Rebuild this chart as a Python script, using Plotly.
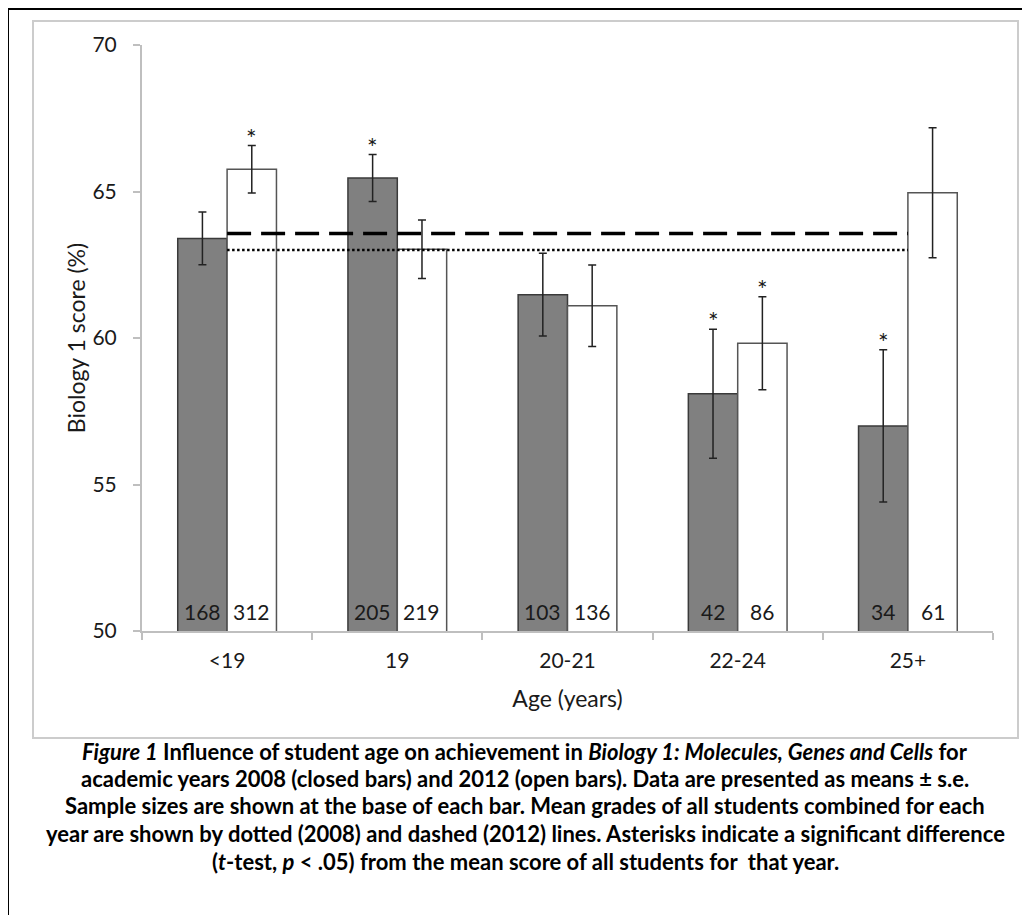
import plotly.graph_objects as go

# ---------------- data ----------------
categories = ["<19", "19", "20-21", "22-24", "25+"]
mean_2008 = [63.4, 65.46, 61.48, 58.1, 57.0]
se_2008 = [0.9, 0.8, 1.41, 2.2, 2.6]
mean_2012 = [65.76, 63.03, 61.1, 59.82, 64.96]
se_2012 = [0.81, 1.0, 1.39, 1.59, 2.22]
n_2008 = [168, 205, 103, 42, 34]
n_2012 = [312, 219, 136, 86, 61]
sig_2008 = [False, True, False, True, True]
sig_2012 = [True, False, False, True, False]
overall_2008 = 63.0
overall_2012 = 63.57

y_ticks = [50, 55, 60, 65, 70]
x_title = "Age (years)"
y_title = "Biology 1 score (%)"
caption_lines = [
    "<i>Figure 1</i> Influence of student age on achievement in <i>Biology 1: Molecules, Genes and Cells</i> for",
    "academic years 2008 (closed bars) and 2012 (open bars). Data are presented as means ± s.e.",
    "Sample sizes are shown at the base of each bar. Mean grades of all students combined for each",
    "year are shown by dotted (2008) and dashed (2012) lines. Asterisks indicate a significant difference",
    "(<i>t</i>-test, <i>p</i> &lt; .05) from the mean score of all students for  that year.",
]

# ---------------- layout geometry ----------------
PAGE_OFF = 8                     # default body margin of the html page
FW, FH = 1030 - PAGE_OFF, 915 - PAGE_OFF
L, R, T, B = 142 - PAGE_OFF, 37, 45 - PAGE_OFF, 284
PW, PH = FW - L - R, FH - T - B
BARGAP = 0.42
FONT = "Lato"
TXT = "#1a1a1a"


def px_x(px):
    """page pixel x -> paper coordinate"""
    return (px - PAGE_OFF - L) / PW


def px_y(py):
    """page pixel y -> paper coordinate"""
    return (T + PH - (py - PAGE_OFF)) / PH


fig = go.Figure()

fig.add_trace(go.Bar(
    x=categories, y=mean_2008, name="2008",
    marker=dict(color="#808080", line=dict(color="#3a3a3a", width=1.5)),
    error_y=dict(type="data", array=se_2008, color="#222222", thickness=1.5, width=4),
))
fig.add_trace(go.Bar(
    x=categories, y=mean_2012, name="2012",
    marker=dict(color="#ffffff", line=dict(color="#555555", width=1.5)),
    error_y=dict(type="data", array=se_2012, color="#222222", thickness=1.5, width=4),
))

# overall mean lines (from first to last category centre)
fig.add_trace(go.Scatter(
    x=[categories[0], categories[-1]], y=[overall_2012, overall_2012], mode="lines",
    line=dict(color="black", width=3.5, dash="24px,10px"), hoverinfo="skip",
))
fig.add_trace(go.Scatter(
    x=[categories[0], categories[-1]], y=[overall_2008, overall_2008], mode="lines",
    line=dict(color="black", width=2.5, dash="2.5px,2.5px"), hoverinfo="skip",
))

half = (1 - BARGAP) / 4  # centre offset of each bar within group
annotations = []
for i, c in enumerate(categories):
    for off, n, m, s, sig in ((-half, n_2008[i], mean_2008[i], se_2008[i], sig_2008[i]),
                              (half, n_2012[i], mean_2012[i], se_2012[i], sig_2012[i])):
        annotations.append(dict(x=i + off, y=y_ticks[0], xref="x", yref="y", text=str(n),
                                showarrow=False, yanchor="bottom", yshift=5,
                                font=dict(family=FONT, size=21, color=TXT)))
        if sig:
            annotations.append(dict(x=i + off, y=m + s, xref="x", yref="y", text="*",
                                    showarrow=False, yanchor="bottom", yshift=-9,
                                    font=dict(family=FONT, size=25, color=TXT)))

caption_y = [751, 778, 805, 833, 861]
for line, py in zip(caption_lines, caption_y):
    annotations.append(dict(x=px_x(525), y=px_y(py), xref="paper", yref="paper",
                            text="<b>" + line + "</b>", showarrow=False,
                            xanchor="center", yanchor="middle",
                            font=dict(family=FONT, size=22, color="black")))

shapes = [
    dict(type="rect", xref="paper", yref="paper", x0=px_x(33), x1=px_x(1018),
         y0=px_y(738), y1=px_y(21), line=dict(color="#cccccc", width=2)),
    dict(type="rect", xref="paper", yref="paper", x0=px_x(8), x1=px_x(1045),
         y0=px_y(930), y1=px_y(9), line=dict(color="black", width=2)),
]

fig.update_layout(
    width=FW, height=FH,
    margin=dict(l=L, r=R, t=T, b=B, autoexpand=False),
    paper_bgcolor="white", plot_bgcolor="white",
    barmode="group", bargap=BARGAP, bargroupgap=0,
    showlegend=False,
    annotations=annotations, shapes=shapes,
    font=dict(family=FONT, size=20, color=TXT),
)
fig.update_xaxes(
    type="category", showline=True, linecolor="#bfbfbf", linewidth=2,
    ticks="outside", ticklen=7, tickcolor="#bfbfbf", tickwidth=2, tickson="boundaries",
    showgrid=False, zeroline=False, ticklabelstandoff=10,
    tickfont=dict(family=FONT, size=21, color=TXT),
    title=dict(text=x_title, standoff=20, font=dict(family=FONT, size=23, color=TXT)),
)
fig.update_yaxes(
    range=[y_ticks[0], y_ticks[-1]], tickvals=y_ticks, showline=True, linecolor="#bfbfbf",
    linewidth=2, ticks="outside", ticklen=7, tickcolor="#bfbfbf", tickwidth=2,
    showgrid=False, zeroline=False, ticklabelstandoff=12,
    tickfont=dict(family=FONT, size=21, color=TXT),
    title=dict(text=y_title, standoff=0, font=dict(family=FONT, size=23, color=TXT)),
)

fig.write_html("out.html")
